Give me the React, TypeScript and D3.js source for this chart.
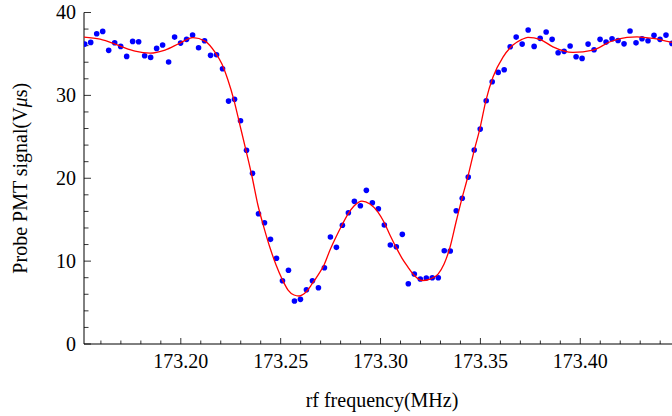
import React from "react";
import * as d3 from "d3";

// measured data points (rf frequency in MHz, probe PMT signal in V·µs)
const frequencies: number[] = [
  173.1519, 173.1549, 173.1579, 173.1609, 173.1639, 173.1669, 173.1699, 173.1729, 173.1759, 173.1789,
  173.1819, 173.1849, 173.1879, 173.1909, 173.1939, 173.1969, 173.1999, 173.2029, 173.2059, 173.2089,
  173.2119, 173.2149, 173.2179, 173.2209, 173.2239, 173.2269, 173.2299, 173.2329, 173.2359, 173.2389,
  173.2419, 173.2449, 173.2479, 173.2509, 173.2539, 173.2569, 173.2599, 173.2629, 173.2659, 173.2689,
  173.2719, 173.2749, 173.2779, 173.2809, 173.2839, 173.2869, 173.2899, 173.2929, 173.2959, 173.2989,
  173.3019, 173.3049, 173.3079, 173.3109, 173.3139, 173.3169, 173.3199, 173.3229, 173.3259, 173.3289,
  173.3319, 173.3349, 173.3379, 173.3409, 173.3439, 173.3469, 173.3499, 173.3529, 173.3559, 173.3589,
  173.3619, 173.3649, 173.3679, 173.3709, 173.3739, 173.3769, 173.3799, 173.3829, 173.3859, 173.3889,
  173.3919, 173.3949, 173.3979, 173.4009, 173.4039, 173.4069, 173.4099, 173.4129, 173.4159, 173.4189,
  173.4219, 173.4249, 173.4279, 173.4309, 173.4339, 173.4369, 173.4399, 173.4429, 173.4459,
];

const signals: number[] = [
  36.19, 36.39, 37.43, 37.72, 35.43, 36.35, 35.91, 34.7, 36.51, 36.47,
  34.78, 34.58, 35.67, 36.07, 34.02, 37.03, 36.31, 36.76, 37.27, 35.74,
  36.59, 34.83, 34.9, 33.21, 29.31, 29.52, 26.94, 23.37, 20.59, 15.72,
  14.63, 12.63, 10.34, 7.64, 8.89, 5.19, 5.39, 6.55, 7.64, 6.79,
  9.2, 12.91, 11.66, 14.32, 15.84, 17.21, 16.68, 18.54, 17.04, 16.32,
  14.35, 11.94, 11.74, 13.23, 7.27, 8.44, 7.84, 7.96, 8.0, 8.0,
  11.25, 11.22, 16.08, 17.58, 20.14, 23.4, 25.93, 29.35, 31.64, 32.77,
  33.09, 35.86, 37.03, 36.19, 37.88, 35.91, 36.88, 37.64, 36.76, 35.14,
  35.31, 35.95, 34.66, 34.46, 36.19, 35.5, 36.76, 36.43, 36.83, 36.63,
  36.22, 37.76, 36.34, 36.83, 36.59, 37.24, 36.76, 37.27, 36.27,
];

// fitted curve samples
const fitFrequencies: number[] = [
  173.1515, 173.1596, 173.1696, 173.1771, 173.1846, 173.1921, 173.1996, 173.2061, 173.2121, 173.2171,
  173.2206, 173.2236, 173.2266, 173.2296, 173.2326, 173.2356, 173.2386, 173.2417, 173.2447, 173.2477,
  173.2507, 173.2537, 173.2567, 173.2592, 173.2627, 173.2657, 173.2687, 173.2717, 173.2747, 173.2777,
  173.2807, 173.2837, 173.2867, 173.2907, 173.2947, 173.2987, 173.3017, 173.3047, 173.3077, 173.3107,
  173.3137, 173.3167, 173.3208, 173.3248, 173.3288, 173.3318, 173.3348, 173.3378, 173.3408, 173.3438,
  173.3468, 173.3498, 173.3528, 173.3563, 173.3613, 173.3663, 173.3708, 173.3738, 173.3798, 173.3863,
  173.3963, 173.4064, 173.4149, 173.4234, 173.4284, 173.4364, 173.4459,
];

const fitSignals: number[] = [
  37.03, 36.79, 35.95, 35.34, 35.1, 35.47, 36.31, 36.97, 36.55, 35.22,
  33.78, 31.85, 29.43, 26.42, 23.4, 20.27, 16.77, 13.99, 11.58, 9.53,
  7.84, 6.51, 5.91, 5.79, 6.27, 7.24, 8.32, 9.53, 11.34, 12.91,
  14.36, 15.68, 16.65, 17.25, 16.89, 15.92, 14.72, 13.15, 11.7, 10.37,
  9.29, 8.32, 7.66, 7.84, 8.44, 9.65, 11.7, 14.72, 17.61, 20.27,
  23.28, 26.06, 29.43, 32.21, 34.62, 36.07, 36.76, 37.0, 36.76, 35.86,
  35.19, 35.47, 36.47, 37.0, 37.07, 36.88, 36.39,
];

const xMajorTicks: number[] = [173.2, 173.25, 173.3, 173.35, 173.4];
const yMajorTicks: number[] = [0, 10, 20, 30, 40];

const W = 672;
const H = 416;
const LEFT = 84;
const RIGHT = 672;
const BOTTOM = 344;
const TOP = 12.5;
const FONT = "'Liberation Serif', 'Times New Roman', serif";

export default function App() {
  const x = d3.scaleLinear().domain([173.15154, 173.44591]).range([LEFT, RIGHT]);
  const y = d3.scaleLinear().domain([0, 40]).range([BOTTOM, TOP]);

  const xMinor = d3.range(173.16, 173.455, 0.01).map((v) => +v.toFixed(2));
  const yMinor = d3.range(0, 40.001, 2);

  const line = d3
    .line<number>()
    .x((_, i) => x(fitFrequencies[i]))
    .y((d) => y(d))
    .curve(d3.curveMonotoneX);

  return (
    <svg
      width={W}
      height={H}
      style={{ position: "absolute", left: 0, top: 0, background: "#fff" }}
      fontFamily={FONT}
    >
      <defs>
        <clipPath id="plotClip">
          <rect x={LEFT} y={0} width={RIGHT - LEFT} height={BOTTOM} />
        </clipPath>
      </defs>

      {/* axes */}
      <line x1={LEFT} x2={RIGHT} y1={BOTTOM} y2={BOTTOM} stroke="#000" strokeWidth={1} />
      <line x1={LEFT} x2={LEFT} y1={BOTTOM} y2={y(40)} stroke="#000" strokeWidth={1} />

      {/* x ticks */}
      {xMinor.map((v) => {
        const major = xMajorTicks.some((m) => Math.abs(m - v) < 1e-6) || Math.abs(v - 173.45) < 1e-6;
        return (
          <line
            key={"xt" + v}
            x1={x(v)}
            x2={x(v)}
            y1={BOTTOM}
            y2={BOTTOM - (major ? 6 : 3.5)}
            stroke="#000"
            strokeWidth={0.8}
          />
        );
      })}
      {xMajorTicks.map((v) => (
        <text key={"xl" + v} x={x(v)} y={368} textAnchor="middle" fontSize={20} fill="#000">
          {v.toFixed(2)}
        </text>
      ))}

      {/* y ticks */}
      {yMinor.map((v) => {
        const major = v % 10 === 0;
        return (
          <line
            key={"yt" + v}
            x1={LEFT}
            x2={LEFT + (major ? 7 : 4.5)}
            y1={y(v)}
            y2={y(v)}
            stroke="#000"
            strokeWidth={0.8}
          />
        );
      })}
      {yMajorTicks.map((v) => (
        <text key={"yl" + v} x={76} y={y(v)} dy="0.33em" textAnchor="end" fontSize={20} fill="#000">
          {v}
        </text>
      ))}

      {/* data */}
      <g clipPath="url(#plotClip)">
        {signals.map((s, i) => (
          <circle key={"p" + i} cx={x(frequencies[i])} cy={y(s)} r={2.8} fill="#0000ff" />
        ))}
        <path d={line(fitSignals) || ""} fill="none" stroke="#ff0000" strokeWidth={1.3} />
      </g>

      {/* titles */}
      <text x={382} y={407} textAnchor="middle" fontSize={20} fill="#000">
        rf frequency(MHz)
      </text>
      <text
        transform={`translate(27, ${(BOTTOM + TOP) / 2}) rotate(-90)`}
        textAnchor="middle"
        fontSize={20}
        fill="#000"
      >
        Probe PMT signal(V<tspan fontStyle="italic">μ</tspan>s)
      </text>
    </svg>
  );
}
